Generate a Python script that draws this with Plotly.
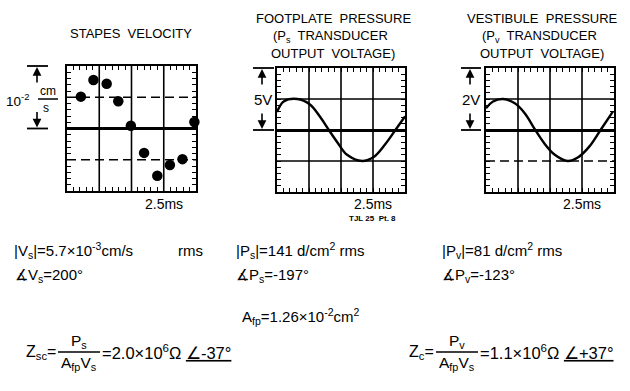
import plotly.graph_objects as go

W, H = 630, 391

# ---------------- data (graticule divisions) ----------------
# stapes velocity samples
vel_t = [0.43, 0.82, 1.23, 1.59, 1.98, 2.39, 2.80, 3.19, 3.58, 3.95]
vel_v = [1.02, 1.55, 1.43, 0.87, 0.09, -0.78, -1.51, -1.17, -0.98, 0.21]

# footplate pressure transducer trace
ps_t = [0.0, 0.21, 0.63, 1.02, 1.35, 1.62, 1.90, 2.19, 2.66, 3.02, 3.38, 3.70, 4.0]
ps_v = [0.58, 0.92, 1.0, 0.83, 0.42, 0.0, -0.42, -0.80, -1.0, -0.87, -0.46, 0.0, 0.44]

# vestibule pressure transducer trace
pv_t = [0.0, 0.22, 0.53, 0.90, 1.21, 1.54, 1.83, 2.15, 2.55, 2.88, 3.24, 3.58, 3.97]
pv_v = [0.70, 0.92, 1.0, 0.86, 0.54, 0.0, -0.44, -0.80, -1.0, -0.88, -0.52, 0.0, 0.60]

titles = [
    ["STAPES  VELOCITY"],
    ["FOOTPLATE  PRESSURE", "(P<sub>s</sub>  TRANSDUCER", "OUTPUT  VOLTAGE)"],
    ["VESTIBULE  PRESSURE", "(P<sub>v</sub>  TRANSDUCER", "OUTPUT  VOLTAGE)"],
]
time_label = "2.5ms"
time_label_div = 3
plate_tag = "TJL 25  Pt. 8"

# ---------------- layout helpers ----------------
def X(p):
    return p / W

def Y(p):
    return 1 - p / H

# panel boxes in pixels: (left, right), (top, bottom)
boxes = [((67, 196), (66, 191)), ((277, 405), (68, 192)), ((486, 614), (68, 192))]
XR, YR = [0, 4], [-2, 2]
DIVS = [1, 2, 3]

def xdiv(k, v):
    (l, r), _ = boxes[k]
    return X(l + (v - XR[0]) / (XR[1] - XR[0]) * (r - l))

def ydiv(k, v):
    _, (t, b) = boxes[k]
    return Y(b - (v - YR[0]) / (YR[1] - YR[0]) * (b - t))

FONT = "Liberation Sans"
INK = "black"

fig = go.Figure()
fig.add_trace(go.Scatter(x=vel_t, y=vel_v, mode="markers", xaxis="x", yaxis="y",
                         marker=dict(size=10.5, color=INK), cliponaxis=False))
fig.add_trace(go.Scatter(x=ps_t, y=ps_v, mode="lines", xaxis="x2", yaxis="y2",
                         line=dict(color=INK, width=2.4, shape="spline", smoothing=1)))
fig.add_trace(go.Scatter(x=pv_t, y=pv_v, mode="lines", xaxis="x3", yaxis="y3",
                         line=dict(color=INK, width=2.4, shape="spline", smoothing=1)))

# graticule frame: fine ticks every 1/5 division on all four edges
frame = dict(tickmode="linear", tick0=0, dtick=0.2, ticks="inside", ticklen=4,
             tickwidth=1.3, tickcolor=INK, showgrid=False, showticklabels=False,
             showline=True, linecolor=INK, linewidth=2.2, mirror="ticks", fixedrange=True)

def xaxis(k, anchor):
    (l, r), _ = boxes[k]
    return dict(domain=[X(l), X(r)], range=XR, anchor=anchor, zeroline=False, **frame)

def yaxis(k, anchor):
    _, (t, b) = boxes[k]
    return dict(domain=[Y(b), Y(t)], range=YR, anchor=anchor,
                zeroline=True, zerolinecolor=INK, zerolinewidth=2.6, **frame)

shapes = []
# graticule division lines
for k in range(3):
    xr, yr = ("x", "y") if k == 0 else ("x%d" % (k + 1), "y%d" % (k + 1))
    for v in DIVS:
        shapes.append(dict(type="line", xref=xr, yref=yr + " domain", x0=v, x1=v, y0=0, y1=1,
                           line=dict(color=INK, width=1.6), layer="below"))
    # horizontal lines at +/- 1 division; some traced broken
    styles = {0: ["9px,5px", "9px,5px"], 1: ["solid", "solid"], 2: ["solid", "9px,5px"]}[k]
    for v, dash in zip([1, -1], styles):
        shapes.append(dict(type="line", xref=xr + " domain", yref=yr, x0=0, x1=1, y0=v, y1=v,
                           line=dict(color=INK, width=1.6, dash=dash), layer="below"))

annotations = []

def text(x, y, s, size=14.5, xanchor="left"):
    annotations.append(dict(x=X(x), y=Y(y), xref="paper", yref="paper", text=s,
                            showarrow=False, xanchor=xanchor, yanchor="middle",
                            font=dict(family=FONT, size=size, color=INK)))

def arrow(x, yhead, ay):
    annotations.append(dict(x=X(x), y=yhead, xref="paper", yref="paper", text="",
                            showarrow=True, ax=0, ay=ay, arrowhead=2, arrowsize=1.1,
                            arrowwidth=1.6, arrowcolor=INK, standoff=1))

def hline(x0, x1, y, w=1.8):
    shapes.append(dict(type="line", xref="paper", yref="paper", x0=X(x0), x1=X(x1),
                       y0=y, y1=y, line=dict(color=INK, width=w)))

# scale brackets (two divisions) with arrows
brackets = [(0, 27, 48, 37), (1, 253, 274, 262), (2, 461, 481, 470)]
for k, x0, x1, xa in brackets:
    hline(x0, x1, ydiv(k, 2))
    hline(x0, x1, ydiv(k, 0))
    arrow(xa, ydiv(k, 2), 18)
    arrow(xa, ydiv(k, 0), -18)

text(31, 100, "10<sup>-2</sup>", 13.5, "right")
text(48, 91, "cm", 12, "center")
hline(38, 58, Y(99), 1.5)
text(46, 108, "s", 12, "center")
text(263, 100, "5V", 15, "center")
text(471, 100, "2V", 15, "center")

# titles
text(131, 33, titles[0][0], 13, "center")
for k, cx in [(1, 333), (2, 542)]:
    for i, line in enumerate(titles[k]):
        text(cx + (-3 if i == 1 else 0), 18 + 18 * i, line, 13, "center")

# time scale labels
for k in range(3):
    annotations.append(dict(x=xdiv(k, time_label_div), y=Y(204), xref="paper", yref="paper",
                            text=time_label, showarrow=False, xanchor="center", yanchor="middle",
                            font=dict(family=FONT, size=14, color=INK)))
text(372, 218, "<b>" + plate_tag + "</b>", 8, "center")

# measured values
text(12, 251, "|V<sub>s</sub>|=5.7×10<sup>-3</sup>cm/s", 15)
text(176, 251, "rms", 15)
text(234, 251, "|P<sub>s</sub>|=141 d/cm<sup>2</sup> rms", 15)
text(440, 251, "|P<sub>v</sub>|=81 d/cm<sup>2</sup> rms", 15)
text(13, 275, "∡V<sub>s</sub>=200°", 15)
text(234, 275, "∡P<sub>s</sub>=-197°", 15)
text(440, 275, "∡P<sub>v</sub>=-123°", 15)
text(240, 316, "A<sub>fp</sub>=1.26×10<sup>-2</sup>cm<sup>2</sup>", 15)

# impedance fractions
for zname, num, x_eq, value in [("Z<sub>sc</sub>=", "P<sub>s</sub>", 58, "=2.0×10<sup>6</sup>Ω <u>∠-37°</u>"),
                                ("Z<sub>c</sub>=", "P<sub>v</sub>", 436, "=1.1×10<sup>6</sup>Ω <u>∠+37°</u>")]:
    text(x_eq, 352, zname, 16, "right")
    text(x_eq + 21, 341, num, 15.5, "center")
    hline(x_eq, x_eq + 42, Y(352), 1.5)
    text(x_eq + 21, 363, "A<sub>fp</sub>V<sub>s</sub>", 15.5, "center")
    text(x_eq + 42, 352, value, 16.5)

fig.update_layout(
    width=W, height=H, margin=dict(l=0, r=0, t=0, b=0),
    paper_bgcolor="white", plot_bgcolor="white", showlegend=False,
    xaxis=xaxis(0, "y"), yaxis=yaxis(0, "x"),
    xaxis2=xaxis(1, "y2"), yaxis2=yaxis(1, "x2"),
    xaxis3=xaxis(2, "y3"), yaxis3=yaxis(2, "x3"),
    shapes=shapes, annotations=annotations,
)

fig.write_html("out.html")
